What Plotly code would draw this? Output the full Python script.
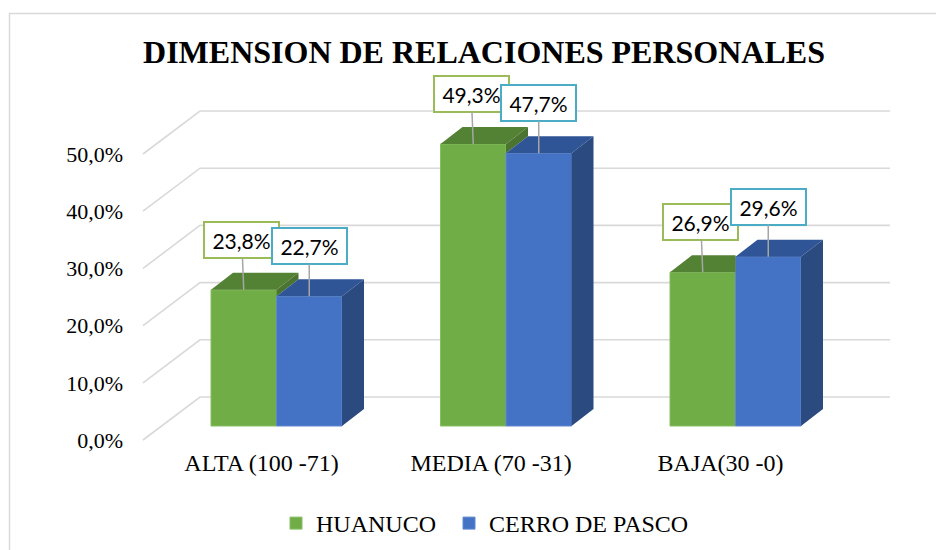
import plotly.graph_objects as go

# ---------------- data ----------------
categories = ["ALTA (100 -71)", "MEDIA (70 -31)", "BAJA(30 -0)"]
series_names = ["HUANUCO", "CERRO DE PASCO"]
huanuco = [23.8, 49.3, 26.9]
cerro_de_pasco = [22.7, 47.7, 29.6]
tick_values = [0, 10, 20, 30, 40, 50]
tick_labels = ["0,0%", "10,0%", "20,0%", "30,0%", "40,0%", "50,0%"]

# ---------------- styling / layout geometry ----------------
PAGE_OFF = 8                     # page body margin of the html page
W, H = 944 - PAGE_OFF, 550 - PAGE_OFF
# geometry below is expressed in window pixels
L_PX, R_PX, T_PX, B_PX = 130, 900, 90, 446      # plot area
PX_PER_PCT = 5.72                                # vertical scale
BASE_PX = 426                                    # zero of the bar plane
CAT0_PX, CAT_STEP_PX = 276.5, 229.5              # category spacing
FRONT_X_PX, BACK_X_PX, RIGHT_X_PX = 143, 200, 890
FRONT_Y0_PX, BACK_Y0_PX = 440, 397
DEPTH_DX_PX, DEPTH_DY_PX = 22, 17
BAR_W = 0.2854
LABEL_SHIFT = -0.065

front_colors = ["#70AD47", "#4472C4"]
edge_colors = ["#86BE62", "#5F88CF"]
top_colors = ["#548235", "#2F5597"]
side_colors = ["#4B7431", "#2B4A80"]
box_colors = ["#9BBB59", "#4BACC6"]
legend_widths = [128, None]


def xd(px):
    return (px - CAT0_PX) / CAT_STEP_PX


def dy_units(px):
    return px / PX_PER_PCT


DX = DEPTH_DX_PX / CAT_STEP_PX
DY = dy_units(DEPTH_DY_PX)
front_off = dy_units(BASE_PX - FRONT_Y0_PX)
back_off = dy_units(BASE_PX - BACK_Y0_PX)

fig = go.Figure()

series = [huanuco, cerro_de_pasco]
offsets = [-BAR_W, 0.0]
xs = list(range(len(categories)))

# front faces (bars)
for s, vals in enumerate(series):
    fig.add_trace(go.Bar(
        x=xs, y=vals, width=BAR_W, offset=offsets[s],
        name=series_names[s], legendwidth=legend_widths[s],
        marker=dict(color=front_colors[s], line=dict(color=edge_colors[s], width=1)),
        hoverinfo="skip",
    ))

# 3D top & side faces
for i in xs:
    g, b = huanuco[i], cerro_de_pasco[i]
    gx0, gx1 = i - BAR_W, i
    bx0, bx1 = i, i + BAR_W
    polys = []
    if b >= g:
        polys.append(([gx0, gx1, gx1, gx0 + DX, gx0], [g, g, g + DY, g + DY, g], top_colors[0]))
    else:
        polys.append(([gx0, gx1, gx1 + DX, gx0 + DX, gx0], [g, g, g + DY, g + DY, g], top_colors[0]))
        polys.append(([gx1, gx1, gx1 + DX, gx1 + DX, gx1], [b, g, g + DY, b + DY, b], side_colors[0]))
    polys.append(([bx0, bx1, bx1 + DX, bx0 + DX, bx0], [b, b, b + DY, b + DY, b], top_colors[1]))
    polys.append(([bx1, bx1, bx1 + DX, bx1 + DX, bx1], [0, b, b + DY, DY, 0], side_colors[1]))
    for px_, py_, col in polys:
        fig.add_trace(go.Scatter(
            x=px_, y=py_, mode="lines", fill="toself", fillcolor=col,
            line=dict(width=0, color=col), showlegend=False, hoverinfo="skip",
        ))

# helper trace so the tick-label axis is drawn
fig.add_trace(go.Scatter(x=[None], y=[None], yaxis="y2", showlegend=False,
                         hoverinfo="skip", mode="markers"))

# gridlines (perspective)
shapes = []
for v in tick_values:
    path = (f"M {xd(FRONT_X_PX)},{v + front_off} "
            f"L {xd(BACK_X_PX)},{v + back_off} "
            f"L {xd(RIGHT_X_PX)},{v + back_off}")
    shapes.append(dict(type="path", path=path, xref="x", yref="y", layer="below",
                       line=dict(color="#D9D9D9", width=1.6)))

# chart frame
pw, ph = R_PX - L_PX, B_PX - T_PX
shapes.append(dict(type="rect", xref="paper", yref="paper",
                   x0=(9.5 - L_PX) / pw, x1=(962 - L_PX) / pw,
                   y0=(B_PX - 562) / ph, y1=(B_PX - 13.5) / ph,
                   line=dict(color="#D9D9D9", width=1.5), layer="below"))

# data labels
annotations = []
for s, vals in enumerate(series):
    for i, v in enumerate(vals):
        txt = f"{v:.1f}%".replace(".", ",")
        annotations.append(dict(
            x=i + offsets[s] + BAR_W / 2, y=v, xref="x", yref="y",
            text=txt, showarrow=True, arrowhead=0, arrowwidth=1.5,
            arrowcolor="#A6A6A6", ax=-2 if s == 0 else 0, ay=-50,
            bgcolor="white", bordercolor=box_colors[s], borderwidth=2,
            borderpad=2, width=69, height=30,
            font=dict(family="Lato", size=21, color="#000000"),
        ))

fig.update_layout(
    width=W, height=H,
    margin=dict(l=L_PX - PAGE_OFF, r=W - (R_PX - PAGE_OFF),
                t=T_PX - PAGE_OFF, b=H - (B_PX - PAGE_OFF), autoexpand=False),
    paper_bgcolor="white", plot_bgcolor="rgba(0,0,0,0)",
    barmode="overlay",
    title=dict(text="<b>DIMENSION DE RELACIONES PERSONALES</b>",
               font=dict(family="Liberation Serif", size=32, color="#000000"),
               x=(484 - PAGE_OFF) / W, xanchor="center",
               y=1 - (52 - PAGE_OFF) / H, yanchor="middle",
               xref="container", yref="container"),
    xaxis=dict(range=[xd(L_PX), xd(R_PX)], tickvals=[i + LABEL_SHIFT for i in xs],
               ticktext=categories, showgrid=False, zeroline=False, showline=False,
               ticks="", tickfont=dict(family="Liberation Serif", size=24, color="#000000")),
    yaxis=dict(range=[dy_units(BASE_PX - B_PX), dy_units(BASE_PX - T_PX)],
               showgrid=False, zeroline=False, showticklabels=False, showline=False),
    yaxis2=dict(range=[dy_units(FRONT_Y0_PX - B_PX), dy_units(FRONT_Y0_PX - T_PX)],
                overlaying="y", side="left", tickvals=tick_values, ticktext=tick_labels,
                showgrid=False, zeroline=False, showline=False, ticks="",
                ticklabelstandoff=6,
                tickfont=dict(family="Liberation Serif", size=22, color="#000000")),
    legend=dict(orientation="h", x=(276 - L_PX) / pw, xanchor="left",
                y=(B_PX - 501) / ph, yanchor="top",
                font=dict(family="Liberation Serif", size=24, color="#000000"),
                itemwidth=30, traceorder="normal"),
    shapes=shapes, annotations=annotations,
)

fig.write_html("out.html")
